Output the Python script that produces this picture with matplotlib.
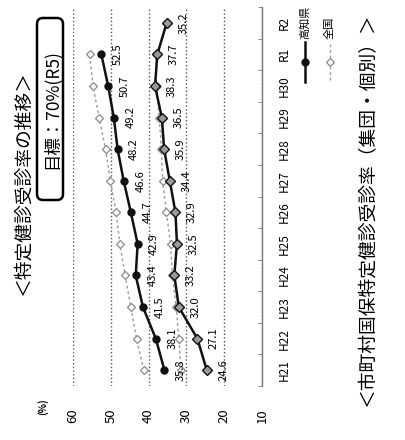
import numpy as np
import matplotlib
matplotlib.use('Agg')
import matplotlib.pyplot as plt
from matplotlib.lines import Line2D
from matplotlib.patches import FancyBboxPatch

plt.rcParams['font.family'] = ['Noto Sans CJK JP', 'DejaVu Sans']

categories = ['H21', 'H22', 'H23', 'H24', 'H25', 'H26', 'H27', 'H28', 'H29', 'H30', 'R1', 'R2']
kochi_all = [35.8, 38.1, 41.5, 43.4, 42.9, 44.7, 46.6, 48.2, 49.2, 50.7, 52.5, np.nan]
national_all = [41.3, 43.2, 44.7, 46.2, 47.6, 48.6, 50.1, 51.4, 53.1, 54.7, 55.6, np.nan]
kochi_kokuho = [24.6, 27.1, 32.0, 33.2, 32.5, 32.9, 34.4, 35.9, 36.5, 38.3, 37.7, 35.2]
national_kokuho = [31.4, 32.0, 32.7, 33.7, 34.2, 35.3, 36.3, 36.6, 37.2, 37.9, 38.0, np.nan]
value_ticks = [10, 20, 30, 40, 50, 60]

W, H = 406, 440
fig = plt.figure(figsize=(W / 100, H / 100), dpi=100)

def fx(px):
    return px / W

def fy(py):
    return 1 - py / H

# the chart is laid on its side: values run right->left, years bottom->top
ax = fig.add_axes([fx(73), fy(386), fx(262) - fx(73), fy(7) - fy(386)])
pos = np.arange(len(categories))

dash_line = dict(color='#9a9a9a', lw=1.0, ls=(0, (2, 2)))
dash_mark = dict(marker='D', ms=4, mfc='white', mec='#8a8a8a', mew=0.9)
ax.plot(national_all, pos, **dash_line, **dash_mark, zorder=2)
ax.plot(national_kokuho, pos, **dash_line, **dash_mark, zorder=2)
ax.plot(kochi_all, pos, color='#111', lw=1.8, marker='o', ms=5,
        mfc='#111', mec='#111', zorder=3)
ax.plot(kochi_kokuho, pos, color='#111', lw=1.8, marker='D', ms=5,
        mfc='#9a9a9a', mec='#111', mew=1.0, zorder=3)

for series in (kochi_all, kochi_kokuho):
    for v, p in zip(series, pos):
        if np.isnan(v):
            continue
        ax.annotate(f'{v:.1f}', (v, p), xytext=(12, 0), textcoords='offset points',
                    rotation=90, ha='center', va='center', fontsize=8)

ax.set_xlim(60, 10)
ax.set_ylim(-0.5, len(categories) - 0.5)

ax.set_xticks(value_ticks)
ax.set_xticklabels([str(v) for v in value_ticks], rotation=90, fontsize=9.5)
ax.tick_params(axis='x', length=0, pad=16)

ax.yaxis.tick_right()
ax.set_yticks(pos)
ax.set_yticklabels(categories, rotation=90, fontsize=8.5, va='center')
ax.set_yticks(np.arange(-0.5, len(categories)), minor=True)
ax.tick_params(axis='y', which='major', length=0, pad=11)
ax.tick_params(axis='y', which='minor', length=3, direction='in', color='#777')

ax.grid(axis='x', ls=':', color='#555', lw=1.0)
for side in ('top', 'bottom', 'left'):
    ax.spines[side].set_visible(False)
ax.spines['right'].set_color('#777')
ax.spines['right'].set_linewidth(1.0)

# titles and notes
fig.text(fx(23), fy(183), '＜特定健診受診率の推移＞', rotation=90,
         ha='center', va='center', fontsize=13.5)
fig.text(fx(368), fy(210), '＜市町村国保特定健診受診率（集団・個別）＞', rotation=90,
         ha='center', va='center', fontsize=13.5)
fig.text(fx(43), fy(407), '(%)', rotation=90, ha='center', va='center',
         fontsize=7, fontweight='bold')

box = FancyBboxPatch((0.37, (H - 200) / 100), 0.26, 1.82,
                     boxstyle='round,pad=0,rounding_size=0.06',
                     transform=fig.dpi_scale_trans, fc='white', ec='black', lw=1.8)
fig.add_artist(box)
fig.text(fx(51), fy(109), '目標：70%(R5)', rotation=90, ha='center', va='center',
         fontsize=12.5)

# legend drawn by hand so it can run along the side
fig.add_artist(Line2D([fx(305), fx(305)], [fy(82), fy(42)], transform=fig.transFigure,
                      color='#111', lw=1.8))
fig.add_artist(Line2D([fx(305)], [fy(62)], transform=fig.transFigure,
                      marker='o', ms=5, color='#111'))
fig.text(fx(305), fy(39), '高知県', rotation=90, ha='center', va='bottom', fontsize=8)
fig.add_artist(Line2D([fx(330), fx(330)], [fy(80), fy(44)], transform=fig.transFigure,
                      **dash_line))
fig.add_artist(Line2D([fx(330)], [fy(62)], transform=fig.transFigure,
                      ls='none', **dash_mark))
fig.text(fx(330), fy(39), '全国', rotation=90, ha='center', va='bottom', fontsize=8)

fig.savefig('out.png', dpi=100)
